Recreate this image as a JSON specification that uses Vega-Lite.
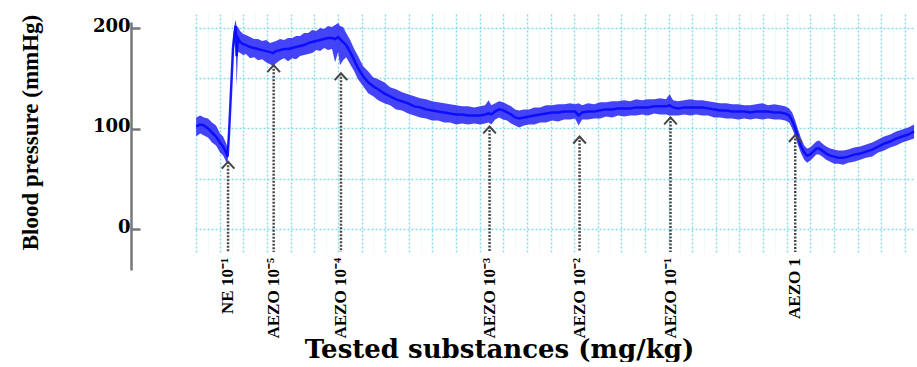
{
  "$schema": "https://vega.github.io/schema/vega-lite/v6.json",
  "padding": {"left": 18, "top": 12, "right": 0, "bottom": 0},
  "background": "white",
  "config": {"view": {"stroke": null}, "concat": {"spacing": 49}},
  "resolve": {"scale": {"y": "independent", "x": "independent"}},
  "datasets": {
    "trace": [
      {"t": 0.0, "lo": 92, "mid": 102, "hi": 111},
      {"t": 0.17, "lo": 95, "mid": 104, "hi": 113},
      {"t": 0.33, "lo": 93, "mid": 103, "hi": 111},
      {"t": 0.5, "lo": 91, "mid": 100, "hi": 110},
      {"t": 0.67, "lo": 86, "mid": 96, "hi": 106},
      {"t": 0.84, "lo": 83, "mid": 92, "hi": 103},
      {"t": 1.01, "lo": 76, "mid": 86, "hi": 95},
      {"t": 1.14, "lo": 73, "mid": 82, "hi": 92},
      {"t": 1.27, "lo": 67, "mid": 76, "hi": 85},
      {"t": 1.33, "lo": 65, "mid": 72, "hi": 81},
      {"t": 1.39, "lo": 90, "mid": 95, "hi": 100},
      {"t": 1.48, "lo": 135, "mid": 140, "hi": 146},
      {"t": 1.56, "lo": 172, "mid": 180, "hi": 190},
      {"t": 1.63, "lo": 185, "mid": 196, "hi": 204},
      {"t": 1.67, "lo": 190, "mid": 202, "hi": 208},
      {"t": 1.71, "lo": 142, "mid": 172, "hi": 202},
      {"t": 1.77, "lo": 176, "mid": 190, "hi": 201},
      {"t": 1.86, "lo": 175, "mid": 186, "hi": 197},
      {"t": 1.99, "lo": 173, "mid": 184, "hi": 194},
      {"t": 2.11, "lo": 174, "mid": 183, "hi": 193},
      {"t": 2.28, "lo": 170, "mid": 181, "hi": 191},
      {"t": 2.45, "lo": 171, "mid": 180, "hi": 189},
      {"t": 2.62, "lo": 168, "mid": 179, "hi": 189},
      {"t": 2.79, "lo": 169, "mid": 178, "hi": 187},
      {"t": 2.96, "lo": 166, "mid": 177, "hi": 188},
      {"t": 3.13, "lo": 164, "mid": 176, "hi": 185},
      {"t": 3.26, "lo": 162, "mid": 175, "hi": 186},
      {"t": 3.38, "lo": 165, "mid": 177, "hi": 187},
      {"t": 3.55, "lo": 168, "mid": 178, "hi": 189},
      {"t": 3.72, "lo": 170, "mid": 179, "hi": 188},
      {"t": 3.89, "lo": 167, "mid": 179, "hi": 190},
      {"t": 4.06, "lo": 170, "mid": 180, "hi": 190},
      {"t": 4.23, "lo": 169, "mid": 181, "hi": 192},
      {"t": 4.4, "lo": 172, "mid": 182, "hi": 192},
      {"t": 4.57, "lo": 173, "mid": 183, "hi": 195},
      {"t": 4.74, "lo": 174, "mid": 185, "hi": 195},
      {"t": 4.91, "lo": 175, "mid": 186, "hi": 198},
      {"t": 5.08, "lo": 178, "mid": 187, "hi": 197},
      {"t": 5.25, "lo": 177, "mid": 188, "hi": 200},
      {"t": 5.42, "lo": 180, "mid": 189, "hi": 199},
      {"t": 5.58, "lo": 178, "mid": 190, "hi": 202},
      {"t": 5.75, "lo": 179, "mid": 190, "hi": 201},
      {"t": 5.88, "lo": 166, "mid": 189, "hi": 203},
      {"t": 6.01, "lo": 176, "mid": 191, "hi": 205},
      {"t": 6.09, "lo": 163, "mid": 189, "hi": 202},
      {"t": 6.22, "lo": 168, "mid": 186, "hi": 201},
      {"t": 6.35, "lo": 171, "mid": 183, "hi": 195},
      {"t": 6.52, "lo": 164, "mid": 176, "hi": 188},
      {"t": 6.69, "lo": 157, "mid": 168, "hi": 179},
      {"t": 6.85, "lo": 149, "mid": 160, "hi": 172},
      {"t": 7.07, "lo": 142, "mid": 152, "hi": 162},
      {"t": 7.28, "lo": 135, "mid": 146, "hi": 157},
      {"t": 7.49, "lo": 132, "mid": 142, "hi": 151},
      {"t": 7.7, "lo": 128, "mid": 139, "hi": 149},
      {"t": 7.96, "lo": 125, "mid": 135, "hi": 146},
      {"t": 8.21, "lo": 123, "mid": 132, "hi": 141},
      {"t": 8.46, "lo": 119, "mid": 129, "hi": 139},
      {"t": 8.72, "lo": 118, "mid": 127, "hi": 136},
      {"t": 8.97, "lo": 115, "mid": 125, "hi": 134},
      {"t": 9.23, "lo": 113, "mid": 122, "hi": 132},
      {"t": 9.48, "lo": 111, "mid": 121, "hi": 130},
      {"t": 9.73, "lo": 110, "mid": 119, "hi": 129},
      {"t": 9.99, "lo": 108, "mid": 118, "hi": 127},
      {"t": 10.24, "lo": 108, "mid": 117, "hi": 126},
      {"t": 10.5, "lo": 106, "mid": 116, "hi": 125},
      {"t": 10.75, "lo": 106, "mid": 115, "hi": 124},
      {"t": 11.0, "lo": 104, "mid": 114, "hi": 123},
      {"t": 11.26, "lo": 105, "mid": 114, "hi": 122},
      {"t": 11.51, "lo": 104, "mid": 113, "hi": 122},
      {"t": 11.77, "lo": 105, "mid": 113, "hi": 121},
      {"t": 12.02, "lo": 104, "mid": 113, "hi": 122},
      {"t": 12.23, "lo": 105, "mid": 114, "hi": 123},
      {"t": 12.38, "lo": 106, "mid": 115, "hi": 128},
      {"t": 12.49, "lo": 104, "mid": 114, "hi": 123},
      {"t": 12.66, "lo": 109, "mid": 117, "hi": 125},
      {"t": 12.82, "lo": 111, "mid": 119, "hi": 127},
      {"t": 12.99, "lo": 109, "mid": 118, "hi": 126},
      {"t": 13.16, "lo": 108, "mid": 116, "hi": 124},
      {"t": 13.33, "lo": 105, "mid": 114, "hi": 122},
      {"t": 13.5, "lo": 103, "mid": 111, "hi": 119},
      {"t": 13.67, "lo": 101, "mid": 110, "hi": 118},
      {"t": 13.88, "lo": 103, "mid": 111, "hi": 119},
      {"t": 14.09, "lo": 104, "mid": 112, "hi": 119},
      {"t": 14.31, "lo": 104, "mid": 113, "hi": 121},
      {"t": 14.56, "lo": 106, "mid": 114, "hi": 121},
      {"t": 14.81, "lo": 106, "mid": 115, "hi": 123},
      {"t": 15.07, "lo": 108, "mid": 116, "hi": 123},
      {"t": 15.32, "lo": 107, "mid": 116, "hi": 124},
      {"t": 15.58, "lo": 109, "mid": 117, "hi": 124},
      {"t": 15.83, "lo": 109, "mid": 117, "hi": 125},
      {"t": 16.04, "lo": 110, "mid": 117, "hi": 124},
      {"t": 16.19, "lo": 103, "mid": 113, "hi": 125},
      {"t": 16.34, "lo": 109, "mid": 116, "hi": 123},
      {"t": 16.59, "lo": 109, "mid": 117, "hi": 125},
      {"t": 16.85, "lo": 110, "mid": 117, "hi": 124},
      {"t": 17.1, "lo": 110, "mid": 118, "hi": 126},
      {"t": 17.35, "lo": 112, "mid": 119, "hi": 126},
      {"t": 17.61, "lo": 111, "mid": 119, "hi": 127},
      {"t": 17.86, "lo": 113, "mid": 120, "hi": 127},
      {"t": 18.12, "lo": 112, "mid": 120, "hi": 128},
      {"t": 18.37, "lo": 113, "mid": 120, "hi": 127},
      {"t": 18.62, "lo": 113, "mid": 121, "hi": 129},
      {"t": 18.88, "lo": 114, "mid": 121, "hi": 128},
      {"t": 19.13, "lo": 113, "mid": 121, "hi": 129},
      {"t": 19.39, "lo": 115, "mid": 122, "hi": 129},
      {"t": 19.64, "lo": 114, "mid": 122, "hi": 130},
      {"t": 19.89, "lo": 114, "mid": 122, "hi": 129},
      {"t": 20.04, "lo": 113, "mid": 123, "hi": 134},
      {"t": 20.19, "lo": 113, "mid": 121, "hi": 128},
      {"t": 20.4, "lo": 113, "mid": 120, "hi": 127},
      {"t": 20.66, "lo": 114, "mid": 121, "hi": 128},
      {"t": 20.91, "lo": 113, "mid": 121, "hi": 129},
      {"t": 21.16, "lo": 114, "mid": 121, "hi": 128},
      {"t": 21.42, "lo": 113, "mid": 121, "hi": 128},
      {"t": 21.67, "lo": 113, "mid": 120, "hi": 127},
      {"t": 21.93, "lo": 111, "mid": 119, "hi": 126},
      {"t": 22.18, "lo": 111, "mid": 118, "hi": 125},
      {"t": 22.43, "lo": 110, "mid": 118, "hi": 125},
      {"t": 22.69, "lo": 110, "mid": 117, "hi": 124},
      {"t": 22.94, "lo": 109, "mid": 117, "hi": 124},
      {"t": 23.2, "lo": 110, "mid": 117, "hi": 123},
      {"t": 23.45, "lo": 109, "mid": 116, "hi": 123},
      {"t": 23.7, "lo": 110, "mid": 117, "hi": 124},
      {"t": 23.96, "lo": 109, "mid": 117, "hi": 125},
      {"t": 24.21, "lo": 110, "mid": 117, "hi": 123},
      {"t": 24.47, "lo": 109, "mid": 116, "hi": 124},
      {"t": 24.72, "lo": 109, "mid": 116, "hi": 123},
      {"t": 24.93, "lo": 108, "mid": 115, "hi": 122},
      {"t": 25.1, "lo": 106, "mid": 113, "hi": 120},
      {"t": 25.23, "lo": 100, "mid": 108, "hi": 116},
      {"t": 25.36, "lo": 92, "mid": 100, "hi": 108},
      {"t": 25.48, "lo": 83, "mid": 91, "hi": 99},
      {"t": 25.61, "lo": 75, "mid": 82, "hi": 90},
      {"t": 25.74, "lo": 69, "mid": 76, "hi": 83},
      {"t": 25.86, "lo": 66, "mid": 73, "hi": 80},
      {"t": 25.99, "lo": 68, "mid": 74, "hi": 81},
      {"t": 26.12, "lo": 71, "mid": 77, "hi": 84},
      {"t": 26.25, "lo": 74, "mid": 80, "hi": 87},
      {"t": 26.37, "lo": 74, "mid": 80, "hi": 88},
      {"t": 26.5, "lo": 72, "mid": 78, "hi": 85},
      {"t": 26.67, "lo": 69, "mid": 75, "hi": 82},
      {"t": 26.84, "lo": 67, "mid": 73, "hi": 80},
      {"t": 27.01, "lo": 65, "mid": 72, "hi": 79},
      {"t": 27.18, "lo": 65, "mid": 71, "hi": 78},
      {"t": 27.39, "lo": 64, "mid": 71, "hi": 78},
      {"t": 27.6, "lo": 66, "mid": 72, "hi": 79},
      {"t": 27.85, "lo": 67, "mid": 74, "hi": 81},
      {"t": 28.11, "lo": 69, "mid": 75, "hi": 82},
      {"t": 28.36, "lo": 71, "mid": 77, "hi": 84},
      {"t": 28.62, "lo": 72, "mid": 79, "hi": 86},
      {"t": 28.87, "lo": 76, "mid": 82, "hi": 89},
      {"t": 29.12, "lo": 78, "mid": 85, "hi": 92},
      {"t": 29.38, "lo": 81, "mid": 87, "hi": 94},
      {"t": 29.63, "lo": 83, "mid": 90, "hi": 97},
      {"t": 29.89, "lo": 86, "mid": 92, "hi": 99},
      {"t": 30.14, "lo": 88, "mid": 94, "hi": 101},
      {"t": 30.39, "lo": 90, "mid": 97, "hi": 104}
    ],
    "arrows": [
      {"label": "NE 10⁻¹", "t": 1.35, "tip": 67},
      {"label": "AEZO 10⁻⁵", "t": 3.28, "tip": 163},
      {"label": "AEZO 10⁻⁴", "t": 6.13, "tip": 155},
      {"label": "AEZO 10⁻³", "t": 12.42, "tip": 102},
      {"label": "AEZO 10⁻²", "t": 16.23, "tip": 92},
      {"label": "AEZO 10⁻¹", "t": 20.08, "tip": 111},
      {"label": "AEZO 1", "t": 25.36, "tip": 93.5}
    ]
  },
  "hconcat": [
    {
      "width": 1,
      "height": 258,
      "data": {"name": "trace"},
      "mark": {"type": "point", "opacity": 0},
      "encoding": {
        "y": {
          "field": "mid",
          "type": "quantitative",
          "scale": {"domain": [-40.8, 206], "range": [258, 10], "nice": false, "zero": false},
          "axis": {
            "values": [0, 100, 200],
            "grid": false,
            "title": "Blood pressure (mmHg)",
            "titleFont": "Liberation Serif",
            "titleFontSize": 23,
            "titleFontWeight": "bold",
            "titleColor": "black",
            "titleAngle": -90,
            "titleX": -101,
            "titleY": 120,
            "titleBaseline": "middle",
            "titleAlign": "center",
            "labelFont": "DejaVu Serif",
            "labelFontSize": 18,
            "labelFontWeight": "bold",
            "labelColor": "black",
            "labelPadding": 10,
            "labelOffset": -2,
            "domainColor": "#777777",
            "domainWidth": 2.5,
            "tickColor": "#777777",
            "tickWidth": 2.5,
            "tickSize": -9
          }
        }
      }
    },
    {
      "width": 720,
      "height": 240,
      "resolve": {"axis": {"x": "independent"}},
      "layer": [
        {
          "data": {"name": "trace"},
          "mark": {"type": "area", "color": "#2323f4", "opacity": 0.85},
          "encoding": {
            "x": {
              "field": "t",
              "type": "quantitative",
              "scale": {"domain": [-0.05, 30.43], "nice": false, "zero": false},
              "axis": {
                "orient": "top",
                "values": [0,1,2,3,4,5,6,7,8,9,10,11,12,13,14,15,16,17,18,19,20,21,22,23,24,25,26,27,28,29,30],
                "grid": true, "gridColor": "#86dde8", "gridDash": [2, 2], "gridWidth": 1.5,
                "labels": false, "ticks": false, "domain": false, "title": null
              }
            },
            "y": {
              "field": "lo",
              "type": "quantitative",
              "scale": {"domain": [-22.9, 215.9], "nice": false, "zero": false},
              "axis": {"values": [0, 50, 100, 150, 200], "grid": true, "gridColor": "#86dde8", "gridDash": [2, 2], "gridWidth": 1.5, "labels": false, "ticks": false, "domain": false, "title": null}
            },
            "y2": {"field": "hi"}
          }
        },
        {
          "data": {"name": "trace"},
          "mark": {"type": "line", "color": "#0808ff", "strokeWidth": 2.5, "opacity": 0.9},
          "encoding": {
            "x": {
              "field": "t",
              "type": "quantitative",
              "axis": {
                "orient": "top",
                "values": [0.5,1.5,2.5,3.5,4.5,5.5,6.5,7.5,8.5,9.5,10.5,11.5,12.5,13.5,14.5,15.5,16.5,17.5,18.5,19.5,20.5,21.5,22.5,23.5,24.5,25.5,26.5,27.5,28.5,29.5],
                "grid": true, "gridColor": "#e3f7f9", "gridDash": [2, 2], "gridWidth": 1,
                "labels": false, "ticks": false, "domain": false, "title": null
              }
            },
            "y": {
              "field": "mid", "type": "quantitative",
              "axis": {"values": [0, 50, 100, 150, 200], "grid": true, "gridColor": "#86dde8", "gridDash": [2, 2], "gridWidth": 1.5, "labels": false, "ticks": false, "domain": false, "title": null}
            }
          }
        },
        {
          "data": {"name": "arrows"},
          "mark": {"type": "rule", "color": "#4a4a4a", "strokeWidth": 2.5, "strokeDash": [2, 1.5]},
          "encoding": {
            "x": {
              "field": "t",
              "type": "quantitative",
              "axis": {
                "orient": "bottom",
                "labels": false, "ticks": false, "domain": false, "grid": false,
                "title": "Tested  substances  (mg/kg)",
                "titleFont": "DejaVu Serif",
                "titleFontSize": 26,
                "titleFontWeight": "bold",
                "titleColor": "black",
                "titleX": 304,
                "titleY": 105,
                "titleBaseline": "alphabetic"
              }
            },
            "y": {
              "field": "tip", "type": "quantitative",
              "axis": {"values": [0, 50, 100, 150, 200], "grid": true, "gridColor": "#86dde8", "gridDash": [2, 2], "gridWidth": 1.5, "labels": false, "ticks": false, "domain": false, "title": null}
            },
            "y2": {"datum": -22.9}
          }
        },
        {
          "data": {"name": "arrows"},
          "mark": {"type": "point", "shape": "M-1,1.1L0,0L1,1.1", "filled": false, "stroke": "#444444", "strokeWidth": 2, "size": 160, "opacity": 1},
          "encoding": {
            "x": {"field": "t", "type": "quantitative", "axis": null},
            "y": {
              "field": "tip", "type": "quantitative",
              "axis": {"values": [0, 50, 100, 150, 200], "grid": true, "gridColor": "#86dde8", "gridDash": [2, 2], "gridWidth": 1.5, "labels": false, "ticks": false, "domain": false, "title": null}
            }
          }
        },
        {
          "data": {"name": "arrows"},
          "mark": {"type": "text", "angle": 270, "align": "right", "baseline": "middle", "dx": -6, "font": "Liberation Serif", "fontSize": 17, "fontWeight": "bold", "color": "black"},
          "encoding": {
            "x": {"field": "t", "type": "quantitative", "axis": null},
            "y": {
              "datum": -22.9,
              "axis": {"values": [0, 50, 100, 150, 200], "grid": true, "gridColor": "#86dde8", "gridDash": [2, 2], "gridWidth": 1.5, "labels": false, "ticks": false, "domain": false, "title": null}
            },
            "text": {"field": "label"}
          }
        }
      ]
    }
  ]
}
